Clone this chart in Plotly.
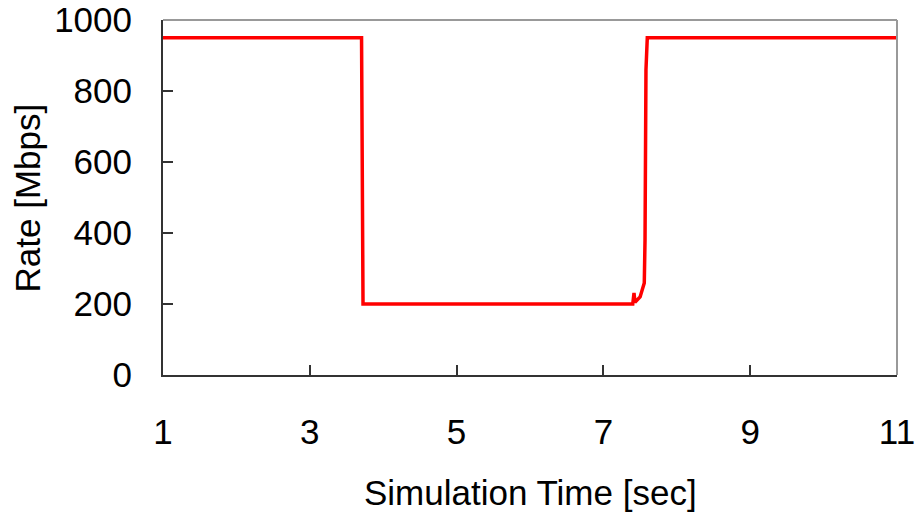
import plotly.graph_objects as go

time_sec = [1.0, 3.705, 3.725, 7.40, 7.417, 7.43, 7.50, 7.557, 7.567, 7.58, 7.598, 11.0]
rate_mbps = [950, 950, 200, 200, 231, 205, 220, 259, 380, 860, 950, 950]

x_ticks = [1, 3, 5, 7, 9, 11]
y_ticks = [0, 200, 400, 600, 800, 1000]

FONT = "Liberation Sans, Arial, sans-serif"
FS = 35

fig = go.Figure()
fig.add_trace(go.Scatter(x=time_sec, y=rate_mbps, mode="lines",
                         line=dict(color="#FF0000", width=3.5), showlegend=False))

fig.update_layout(
    width=915, height=515,
    margin=dict(l=163, r=18, t=20, b=140, autoexpand=False),
    paper_bgcolor="white", plot_bgcolor="white",
    font=dict(family=FONT, size=FS, color="black"),
    xaxis=dict(range=[1, 11], tickvals=x_ticks, showgrid=False, zeroline=False,
               showline=True, linecolor="#333333", linewidth=2, automargin=False,
               ticks="inside", ticklen=10, tickcolor="#333333", tickwidth=1.5,
               ticklabelstandoff=25, ticklabeloverflow="allow", tickfont=dict(size=FS)),
    yaxis=dict(range=[0, 1000], tickvals=y_ticks, showgrid=False, zeroline=False,
               showline=True, linecolor="#333333", linewidth=2, automargin=False,
               ticks="inside", ticklen=10, tickcolor="#333333", tickwidth=1.5,
               ticklabelstandoff=22, ticklabeloverflow="allow", tickfont=dict(size=FS)),
    shapes=[
        dict(type="line", xref="paper", yref="paper", x0=0, x1=1, y0=1, y1=1,
             line=dict(color="#999999", width=2)),
        dict(type="line", xref="paper", yref="paper", x0=1, x1=1, y0=0, y1=1,
             line=dict(color="#999999", width=2)),
    ],
    annotations=[
        dict(text="Simulation Time [sec]", xref="paper", yref="paper", x=0.5, y=-0.33,
             xanchor="center", yanchor="middle", showarrow=False, font=dict(size=FS)),
        dict(text="Rate [Mbps]", xref="paper", yref="paper", x=-0.184, y=0.5,
             xanchor="center", yanchor="middle", textangle=-90, showarrow=False,
             font=dict(size=FS)),
    ],
)

fig.write_html("out.html", config={"displayModeBar": False},
               post_script="document.body.style.margin='0';document.body.style.overflow='hidden';")
